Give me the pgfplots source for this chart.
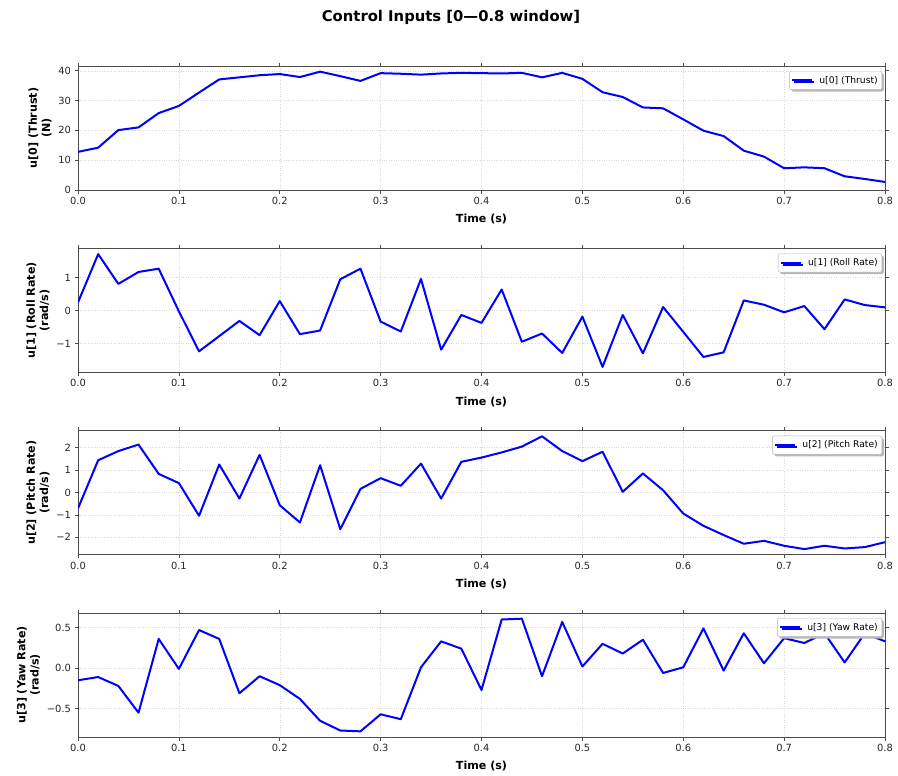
\documentclass[border=0pt]{standalone}
\usepackage{pgfplots}
\usepackage{pgfplotstable}
\pgfplotsset{compat=1.18}
\usepackage{fontspec}
\setmainfont{DejaVu Sans}
\usetikzlibrary{shadows}

\pgfplotstableread{
t u0 u1 u2 u3
0.00 12.8 0.25 -0.71 -0.15
0.02 14.2 1.71 1.44 -0.11
0.04 20.1 0.81 1.85 -0.22
0.06 21.0 1.17 2.14 -0.55
0.08 25.8 1.27 0.83 0.36
0.10 28.2 -0.02 0.42 -0.01
0.12 32.7 -1.23 -1.04 0.47
0.14 37.1 -0.77 1.25 0.36
0.16 37.8 -0.31 -0.27 -0.31
0.18 38.5 -0.74 1.68 -0.10
0.20 38.9 0.29 -0.57 -0.21
0.22 37.9 -0.71 -1.34 -0.38
0.24 39.7 -0.60 1.22 -0.65
0.26 38.2 0.95 -1.64 -0.77
0.28 36.6 1.27 0.16 -0.78
0.30 39.2 -0.33 0.64 -0.57
0.32 39.0 -0.63 0.30 -0.63
0.34 38.7 0.96 1.29 0.01
0.36 39.1 -1.18 -0.27 0.33
0.38 39.3 -0.13 1.37 0.24
0.40 39.2 -0.37 1.56 -0.27
0.42 39.1 0.64 1.79 0.60
0.44 39.3 -0.94 2.05 0.61
0.46 37.8 -0.69 2.51 -0.10
0.48 39.3 -1.28 1.85 0.57
0.50 37.3 -0.18 1.40 0.02
0.52 32.8 -1.70 1.82 0.30
0.54 31.2 -0.13 0.03 0.18
0.56 27.7 -1.29 0.85 0.35
0.58 27.4 0.11 0.10 -0.06
0.60 23.7 -0.64 -0.94 0.01
0.62 19.9 -1.40 -1.49 0.49
0.64 18.1 -1.26 -1.90 -0.03
0.66 13.2 0.31 -2.29 0.43
0.68 11.2 0.18 -2.16 0.06
0.70 7.3 -0.05 -2.38 0.37
0.72 7.6 0.14 -2.53 0.31
0.74 7.3 -0.56 -2.38 0.43
0.76 4.6 0.34 -2.50 0.07
0.78 3.7 0.17 -2.44 0.43
0.80 2.7 0.10 -2.22 0.33
}\ctrldata

\pgfplotsset{
  ctrl/.style={
    width=807bp, height=124bp, scale only axis,
    xmin=0, xmax=0.8,
    xtick={0,0.1,0.2,0.3,0.4,0.5,0.6,0.7,0.8},
    xticklabels={0.0,0.1,0.2,0.3,0.4,0.5,0.6,0.7,0.8},
    tick align=outside,
    major tick length=3.5bp,
    tick style={black!70, line width=0.6bp},
    axis line style={black!70, line width=0.8bp},
    ticklabel style={font=\fontsize{9.9bp}{11bp}\selectfont, text=black!85},
    xmajorgrids, ymajorgrids,
    major grid style={dotted, gray!30, line width=0.5bp},
    xlabel={Time (s)},
    xlabel style={font=\fontsize{11.1bp}{13.3bp}\selectfont\bfseries, yshift=-3bp},
    ylabel style={font=\fontsize{11.1bp}{13.3bp}\selectfont\bfseries, align=center},
    legend style={at={(1,1)}, anchor=north east, xshift=-3bp, yshift=-5bp,
      font=\fontsize{9.2bp}{11bp}\selectfont, draw=gray!60, fill=white,
      rounded corners=2bp, inner xsep=2bp, inner ysep=3bp,
      drop shadow={shadow xshift=2bp, shadow yshift=-2bp, fill=gray!55, opacity=1}},
    legend cell align=left,
    legend image code/.code={\draw[#1] (0bp,0bp) -- (20bp,0bp);},
  },
  ctrlline/.style={blue, line width=2bp, line join=round},
}

\begin{document}
\begin{tikzpicture}[x=1bp,y=1bp]
\useasboundingbox (0,0) rectangle (898,-776);
\node[font=\fontsize{14.8bp}{17bp}\selectfont\bfseries] at (451,-17) {Control Inputs [0—0.8 window]};

\begin{axis}[ctrl, at={(78bp,-66bp)}, anchor=north west,
  ymin=0, ymax=41.6,
  ytick={0,10,20,30,40}, yticklabels={0,10,20,30,40},
  ylabel={u[0] (Thrust)\\(N)}]
\addplot[ctrlline] table[x=t, y=u0] {\ctrldata};
\addlegendentry{\hspace{4bp}u[0] (Thrust)}
\end{axis}

\begin{axis}[ctrl, at={(78bp,-248.5bp)}, anchor=north west,
  ymin=-1.87, ymax=1.88,
  ytick={-1,0,1}, yticklabels={−1,0,1},
  ylabel={u[1] (Roll Rate)\\(rad/s)}]
\addplot[ctrlline] table[x=t, y=u1] {\ctrldata};
\addlegendentry{\hspace{4bp}u[1] (Roll Rate)}
\end{axis}

\begin{axis}[ctrl, at={(78bp,-430.7bp)}, anchor=north west,
  ymin=-2.78, ymax=2.76,
  ytick={-2,-1,0,1,2}, yticklabels={−2,−1,0,1,2},
  ylabel={u[2] (Pitch Rate)\\(rad/s)}]
\addplot[ctrlline] table[x=t, y=u2] {\ctrldata};
\addlegendentry{\hspace{4bp}u[2] (Pitch Rate)}
\end{axis}

\begin{axis}[ctrl, at={(78bp,-613bp)}, anchor=north west,
  ymin=-0.85, ymax=0.68,
  ytick={-0.5,0,0.5}, yticklabels={−0.5,0.0,0.5},
  ylabel={u[3] (Yaw Rate)\\(rad/s)}]
\addplot[ctrlline] table[x=t, y=u3] {\ctrldata};
\addlegendentry{\hspace{4bp}u[3] (Yaw Rate)}
\end{axis}
\end{tikzpicture}
\end{document}
